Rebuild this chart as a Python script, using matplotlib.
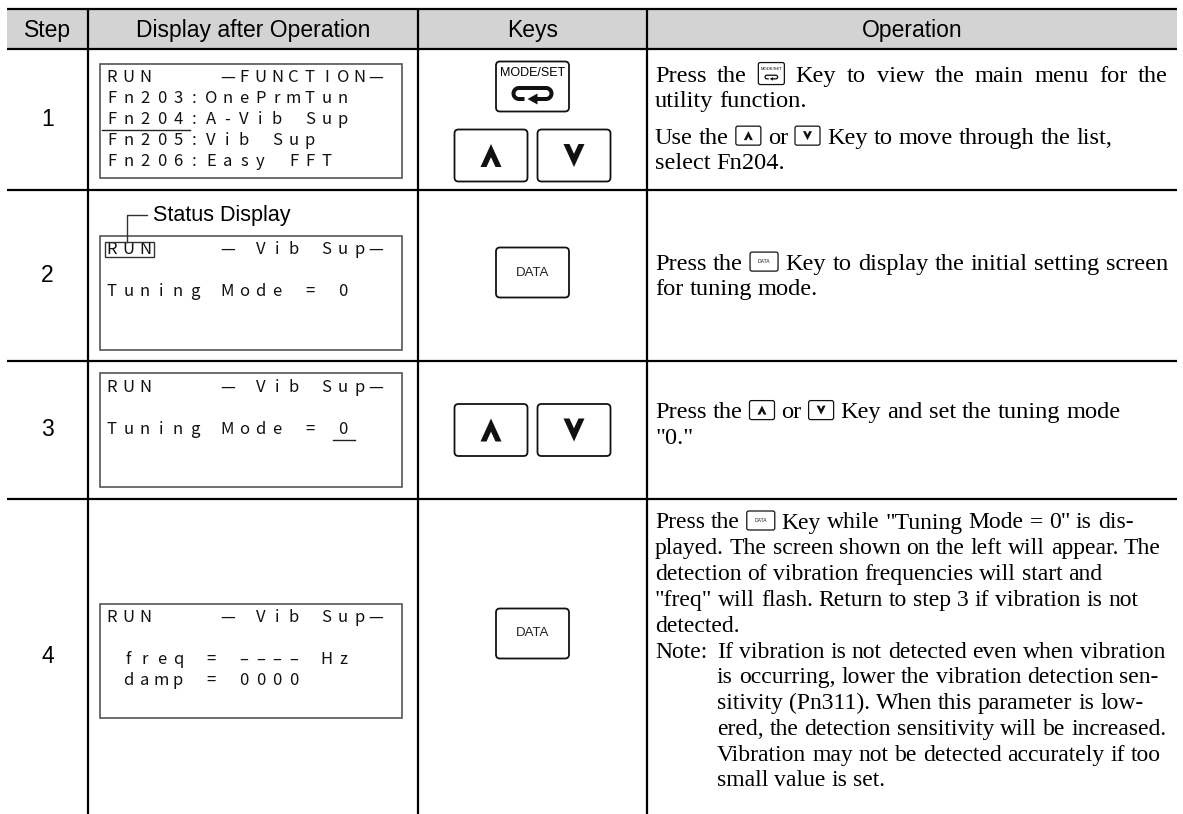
import re
import numpy as np
import matplotlib
matplotlib.use("Agg")
import matplotlib.pyplot as plt
from matplotlib.patches import Rectangle, FancyBboxPatch, Polygon

# ---- table content ----
headers = ["Step", "Display after Operation", "Keys", "Operation"]
steps = ["1", "2", "3", "4"]

display_lines = [
    ["RUN    —FUNCTION—", "Fn203:OnePrmTun", "Fn204:A-Vib Sup", "Fn205:Vib Sup", "Fn206:Easy FFT"],
    ["RUN    — Vib Sup—", "", "Tuning Mode = 0"],
    ["RUN    — Vib Sup—", "", "Tuning Mode = 0"],
    ["RUN    — Vib Sup—", "", " freq = –––– Hz", " damp = 0000"],
]
# (line, first col, last col) underlined on the panel display
display_underline = [(2, 0, 4), None, (2, 14, 14), None]
status_label = "Status Display"

key_rows = [
    [["MODE/SET"], ["UP", "DOWN"]],
    [["DATA"]],
    [["UP", "DOWN"]],
    [["DATA"]],
]

operation_text = [
    [["Press the {MODE} Key to view the main menu for the", "utility function."],
     ["Use the {UP} or {DOWN} Key to move through the list,", "select Fn204."]],
    [["Press the {DATA} Key to display the initial setting screen", "for tuning mode."]],
    [["Press the {UP} or {DOWN} Key and set the tuning mode", '"0."']],
    [['Press the {DATA} Key while "Tuning Mode = 0" is dis-',
      "played. The screen shown on the left will appear. The",
      "detection of vibration frequencies will start and",
      '"freq" will flash. Return to step 3 if vibration is not',
      "detected.",
      "Note:\tIf vibration is not detected even when vibration",
      "\tis occurring, lower the vibration detection sen-",
      "\tsitivity (Pn311). When this parameter is low-",
      "\tered, the detection sensitivity will be increased.",
      "\tVibration may not be detected accurately if too",
      "\tsmall value is set."]],
]
# lines set flush to the right margin: (row, paragraph, line)
justified = {(0, 0, 0), (1, 0, 0)}

# ---- layout (pixel units) ----
W, H = 1183, 814
col_edges = [7, 88, 418, 647, 1177]
row_edges = [9, 49, 190, 361, 499, 814]
key_offsets = [[-33, 36], [-3], [0], [-23]]
box_offsets = [1, 17, 0, 4]
text_offsets = [-1, 0, -6, -6]
text_sizes = [17.6, 17.6, 17.6, 17]

SANS = "Liberation Sans"
SERIF = "Liberation Serif"
LCD = ["Noto Sans CJK JP", "DejaVu Sans"]

fig = plt.figure(figsize=(W / 100, H / 100), dpi=100)
ax = fig.add_axes([0, 0, 1, 1])
ax.set_xlim(0, W)
ax.set_ylim(H, 0)
ax.axis("off")
renderer = fig.canvas.get_renderer()


def rbox(cx, cy, w, h, r, lw, ec="#111111"):
    ax.add_patch(FancyBboxPatch((cx - w / 2 + r, cy - h / 2 + r), w - 2 * r, h - 2 * r,
                                boxstyle=f"round,pad={r}", fc="white", ec=ec, lw=lw, zorder=3))


def chevron(cx, cy, w, h, t, up=True):
    sgn = 1 if up else -1
    base = cy + sgn * h / 2
    tip = cy - sgn * h / 2
    inner = base - sgn * (w / 2 - t) * 2 * h / w
    pts = [(cx - w / 2, base), (cx, tip), (cx + w / 2, base),
           (cx + w / 2 - t, base), (cx, inner), (cx - w / 2 + t, base)]
    ax.add_patch(Polygon(pts, closed=True, fc="#111111", ec="none", zorder=4))


def return_arrow(cx, cy, s):
    hw, r = 13.5 * s, 5.5 * s
    a1 = np.linspace(np.pi / 2, 3 * np.pi / 2, 20)
    a2 = np.linspace(3 * np.pi / 2, 5 * np.pi / 2, 20)
    xs = np.concatenate([[cx - 8 * s], cx - hw + r * np.cos(a1), cx + hw + r * np.cos(a2), [cx + 4 * s]])
    ys = np.concatenate([[cy + r], cy + r * np.sin(a1), cy + r * np.sin(a2), [cy + r]])
    ax.plot(xs, ys, color="#111111", lw=4 * s * 0.72, solid_capstyle="butt", zorder=4)
    ax.add_patch(Polygon([(cx - 5 * s, cy + r), (cx + 5 * s, cy + r - 5.5 * s), (cx + 5 * s, cy + r + 5.5 * s)],
                         closed=True, fc="#111111", ec="none", zorder=4))


def key_size(name, small):
    if name == "MODE/SET":
        return (26, 22) if small else (73, 50)
    if name == "DATA":
        return (28, 19) if small else (73, 50)
    return (25, 19) if small else (73, 52)


def draw_key(name, cx, cy, small=False):
    w, h = key_size(name, small)
    rbox(cx, cy, w, h, 2 if small else 4, 0.9 if small else 1.3)
    if name == "MODE/SET":
        ax.text(cx, cy - (5 if small else 14), "MODE/SET", family=SANS,
                fontsize=3.0 if small else 9, ha="center", va="center", zorder=5)
        return_arrow(cx, cy + (3.5 if small else 7), 0.33 if small else 1.0)
    elif name == "DATA":
        ax.text(cx, cy, "DATA", family=SANS, fontsize=3.6 if small else 9.5,
                ha="center", va="center", color="#222222", zorder=5)
    elif small:
        chevron(cx, cy, 9, 9, 2.7, up=(name == "UP"))
    else:
        chevron(cx, cy, 21, 23, 6, up=(name == "UP"))


def rich_line(x, base, s, size, right=None):
    space = 0.25 * size * 100 / 72
    items = []
    for tk in re.findall(r"\{\w+\}|[^\s{}]+", s):
        if tk.startswith("{"):
            name = {"MODE": "MODE/SET"}.get(tk[1:-1], tk[1:-1])
            items.append(("key", name, key_size(name, True)[0]))
        else:
            t = ax.text(0, base, tk, family=SERIF, fontsize=size, ha="left",
                        va="baseline", zorder=5)
            items.append(("txt", t, t.get_window_extent(renderer).width))
    gaps = []
    for a, b in zip(items[:-1], items[1:]):
        gaps.append(7 if "key" in (a[0], b[0]) else space)
    extra = 0
    if right is not None and gaps:
        extra = max(0, (right - x - sum(i[2] for i in items) - sum(gaps)) / len(gaps))
    for k, (kind, obj, w) in enumerate(items):
        if kind == "key":
            draw_key(obj, x + w / 2, base - 8, small=True)
        else:
            obj.set_x(x)
        x += w + (gaps[k] + extra if k < len(gaps) else 0)


# header band and rules
ax.add_patch(Rectangle((col_edges[0], row_edges[0]), col_edges[-1] - col_edges[0],
                       row_edges[1] - row_edges[0], fc="#d3d3d3", ec="none", zorder=0))
for y in row_edges[:-1]:
    ax.plot([col_edges[0], col_edges[-1]], [y, y], color="black", lw=1.6, zorder=2,
            solid_capstyle="butt")
for x in col_edges[1:-1]:
    ax.plot([x, x], [row_edges[0], row_edges[-1]], color="black", lw=1.6, zorder=2,
            solid_capstyle="butt")

for i, htxt in enumerate(headers):
    ax.text((col_edges[i] + col_edges[i + 1]) / 2, (row_edges[0] + row_edges[1]) / 2 + 1, htxt,
            family=SANS, fontsize=16.5, ha="center", va="center", zorder=5)

pitch = 16.5
for r in range(4):
    top, bot = row_edges[r + 1], row_edges[r + 2]
    yc = (top + bot) / 2
    ax.text((col_edges[0] + col_edges[1]) / 2, yc, steps[r], family=SANS, fontsize=16.5,
            ha="center", va="center", zorder=5)

    # panel display
    bx0, bx1 = col_edges[1] + 12, col_edges[2] - 16
    by = yc + box_offsets[r]
    ax.add_patch(Rectangle((bx0, by - 57), bx1 - bx0, 114, fc="white", ec="#555555",
                           lw=1.2, zorder=3))
    x0 = bx0 + 12
    for li, line in enumerate(display_lines[r]):
        ly = by - 57 + 14 + li * 21
        for ci, ch in enumerate(line):
            if ch != " ":
                ax.text(x0 + ci * pitch, ly, ch, family=LCD, fontsize=12, ha="center",
                        va="center", color="#111111", zorder=5)
    if display_underline[r] is not None:
        li, c0, c1 = display_underline[r]
        uy = by - 57 + 14 + li * 21 + 10.5
        ax.plot([x0 + c0 * pitch - 10, x0 + c1 * pitch + 12], [uy, uy], color="#222222",
                lw=1.0, zorder=5)
    if r == 1:
        ry = by - 57 + 14
        ax.add_patch(Rectangle((x0 - 7, ry - 7.5), 49, 15, fc="none", ec="#333333", lw=1.0, zorder=5))
        ax.plot([x0 + 35, x0 + 15, x0 + 15], [ry - 35, ry - 35, ry - 7.5], color="#333333",
                lw=1.0, zorder=5)
        ax.text(x0 + 41, ry - 34, status_label, family=SANS, fontsize=15.5, ha="left",
                va="center", zorder=5)

    # keys
    kc = (col_edges[2] + col_edges[3]) / 2
    for names, off in zip(key_rows[r], key_offsets[r]):
        if len(names) == 1:
            draw_key(names[0], kc, yc + off)
        else:
            draw_key(names[0], kc - 41.5, yc + off)
            draw_key(names[1], kc + 41.5, yc + off)

    # operation text
    size = text_sizes[r]
    lh, pgap = 25.8, 10.5
    ys, y = [], 0.0
    for pi, para in enumerate(operation_text[r]):
        if pi:
            y += pgap
        for li, ln in enumerate(para):
            ys.append((y, ln, (r, pi, li) in justified))
            y += lh
    span = ys[-1][0]
    start = yc + text_offsets[r] - span / 2
    tx = col_edges[3] + 8
    right = col_edges[4] - 9
    for dy, ln, just in ys:
        base = start + dy + 7
        if "\t" in ln:
            pre, post = ln.split("\t")
            if pre:
                ax.text(tx, base, pre, family=SERIF, fontsize=size, ha="left", va="baseline", zorder=5)
            rich_line(tx + 62, base, post, size)
        else:
            rich_line(tx, base, ln, size, right if just else None)

fig.savefig("out.png", dpi=100)
